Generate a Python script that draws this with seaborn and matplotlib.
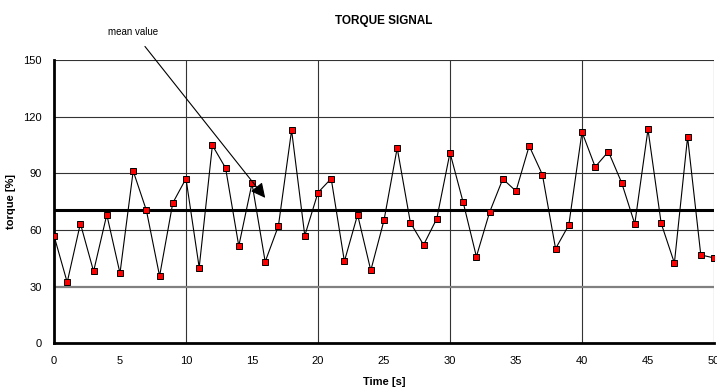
import numpy as np
import pandas as pd
import matplotlib
matplotlib.use("Agg")
import matplotlib.pyplot as plt
import seaborn as sns

# torque samples, one per second
time_s = list(range(0, 51))
torque = [57.0, 32.3, 63.4, 38.1, 68.1, 37.1, 91.2, 70.4, 35.6, 74.3,
          87.2, 40.1, 104.8, 92.8, 51.5, 84.7, 43.2, 62.1, 112.8, 57.0,
          79.8, 87.2, 43.4, 68.1, 38.6, 65.1, 103.4, 63.9, 52.1, 66.0,
          100.9, 74.6, 45.9, 69.4, 87.0, 80.6, 104.5, 89.3, 50.1, 62.6,
          111.9, 93.4, 101.5, 85.1, 63.2, 113.3, 63.5, 42.5, 109.2, 46.8,
          45.2]
mean_value = 70.6
lower_line = 30

x_ticks = list(range(0, 51, 5))
y_ticks = [0, 30, 60, 90, 120, 150]

df = pd.DataFrame({"Time [s]": time_s, "torque [%]": torque})

sns.set_style("white")
plt.rcParams["font.family"] = ["Liberation Sans", "DejaVu Sans"]
plt.rcParams["text.color"] = "black"
plt.rcParams["axes.labelcolor"] = "black"
plt.rcParams["xtick.color"] = "black"
plt.rcParams["ytick.color"] = "black"

fig = plt.figure(figsize=(7.17, 3.92), dpi=100)
ax = fig.add_axes([0.0753, 0.1242, 0.9205, 0.7228])

# grid: verticals every 10 s, horizontals every 30 %
for xv in range(10, 51, 10):
    ax.axvline(xv, color="#333333", lw=0.8, zorder=1)
for yv in [60, 90, 120, 150]:
    ax.axhline(yv, color="#333333", lw=0.8, zorder=1)
ax.axhline(lower_line, color="#808080", lw=1.6, zorder=1)

# mean value line
ax.axhline(mean_value, color="black", lw=2.2, zorder=2)

sns.lineplot(data=df, x="Time [s]", y="torque [%]", ax=ax, color="black",
             lw=0.8, marker="s", markersize=5, markerfacecolor="#ff0000",
             markeredgecolor="black", markeredgewidth=0.7, zorder=3)

ax.set_xlim(0, 50)
ax.set_ylim(0, 150)
ax.set_xticks(x_ticks)
ax.set_yticks(y_ticks)
ax.tick_params(direction="inout", length=6, width=1.5, labelsize=8, pad=6)

for side in ["top", "right"]:
    ax.spines[side].set_visible(False)
for side in ["left", "bottom"]:
    ax.spines[side].set_linewidth(2)
    ax.spines[side].set_color("black")

ax.set_xlabel("Time [s]", fontsize=8, fontweight="bold", labelpad=8)
ax.set_ylabel("torque [%]", fontsize=8, fontweight="bold", labelpad=5)
ax.set_title("TORQUE SIGNAL", fontsize=8.5, fontweight="bold", pad=26)

# arrow pointing at the mean line
ax.annotate("mean value", xy=(16.0, 77.0), xytext=(6.0, 165.0),
            fontsize=7, ha="center", va="center", annotation_clip=False,
            arrowprops=dict(arrowstyle="-|>", color="black", lw=0.8,
                            mutation_scale=22, shrinkA=6, shrinkB=0))

fig.savefig("out.png", dpi=100)
